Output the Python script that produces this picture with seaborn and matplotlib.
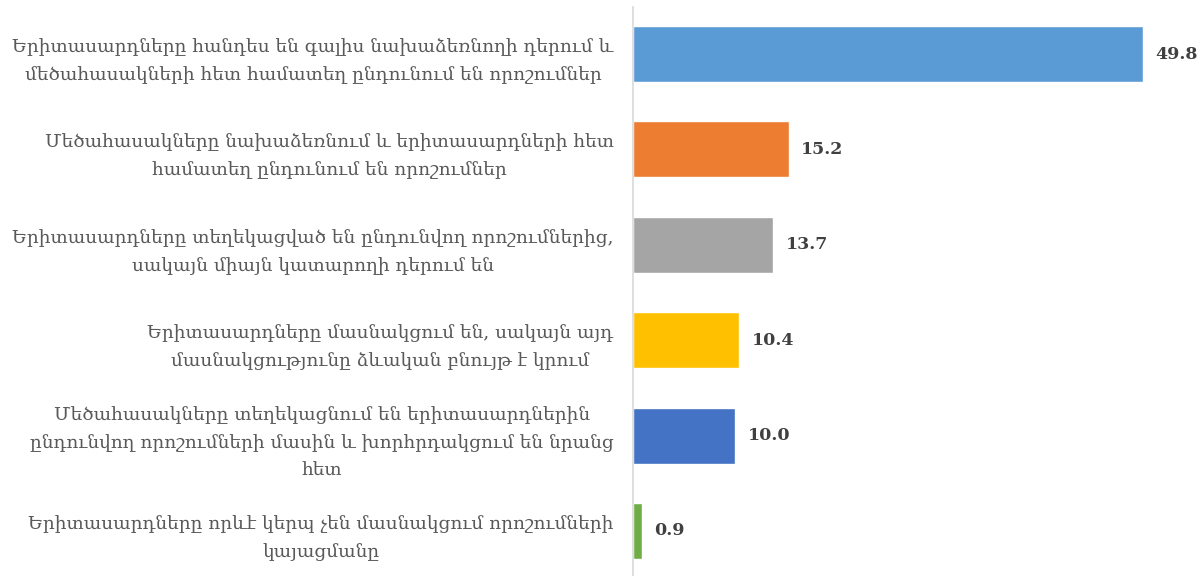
import pandas as pd
import seaborn as sns
import matplotlib.pyplot as plt

# data
categories = [
    "Երիտասարդները հանդես են գալիս նախաձեռնողի դերում և\nմեծահասակների հետ համատեղ ընդունում են որոշումներ",
    "Մեծահասակները նախաձեռնում և երիտասարդների հետ\nհամատեղ ընդունում են որոշումներ",
    "Երիտասարդները տեղեկացված են ընդունվող որոշումներից,\nսակայն միայն կատարողի դերում են",
    "Երիտասարդները մասնակցում են, սակայն այդ\nմասնակցությունը ձևական բնույթ է կրում",
    "Մեծահասակները տեղեկացնում են երիտասարդներին\nընդունվող որոշումների մասին և խորհրդակցում են նրանց\nհետ",
    "Երիտասարդները որևէ կերպ չեն մասնակցում որոշումների\nկայացմանը",
]
values = [49.8, 15.2, 13.7, 10.4, 10.0, 0.9]
bar_colors = ["#5B9BD5", "#ED7D31", "#A5A5A5", "#FFC000", "#4472C4", "#70AD47"]


def plot_chart():
    df = pd.DataFrame({"category": categories, "value": values})

    sns.set_style("white")
    plt.rcParams["font.family"] = ["DejaVu Serif", "DejaVu Sans"]

    fig = plt.figure(figsize=(12.04, 5.76), dpi=100)
    ax = fig.add_axes([633 / 1204, 0, 1 - 633 / 1204, 1 - 7 / 576])

    sns.barplot(data=df, x="value", y="category", hue="category",
                palette=bar_colors, orient="h", width=0.587,
                legend=False, ax=ax, saturation=1)

    ax.set_xlim(0, 55.76)
    ax.set_ylim(5.472, -0.493)
    ax.set_xlabel("")
    ax.set_ylabel("")
    ax.set_xticks([])

    for side in ["top", "right", "bottom"]:
        ax.spines[side].set_visible(False)
    ax.spines["left"].set_color("#D9D9D9")
    ax.spines["left"].set_linewidth(1.2)

    ax.tick_params(axis="y", length=0, pad=14, labelsize=13.3, labelcolor="#595959")
    for lbl in ax.get_yticklabels():
        lbl.set_multialignment("center")
        lbl.set_linespacing(1.72)

    # value labels
    for i, v in enumerate(values):
        ax.text(v + 1.2, i, f"{v:.1f}", va="center", ha="left",
                fontsize=12.5, fontweight="bold", color="#404040")

    fig.savefig("out.png", dpi=100)


if __name__ == "__main__":
    plot_chart()
